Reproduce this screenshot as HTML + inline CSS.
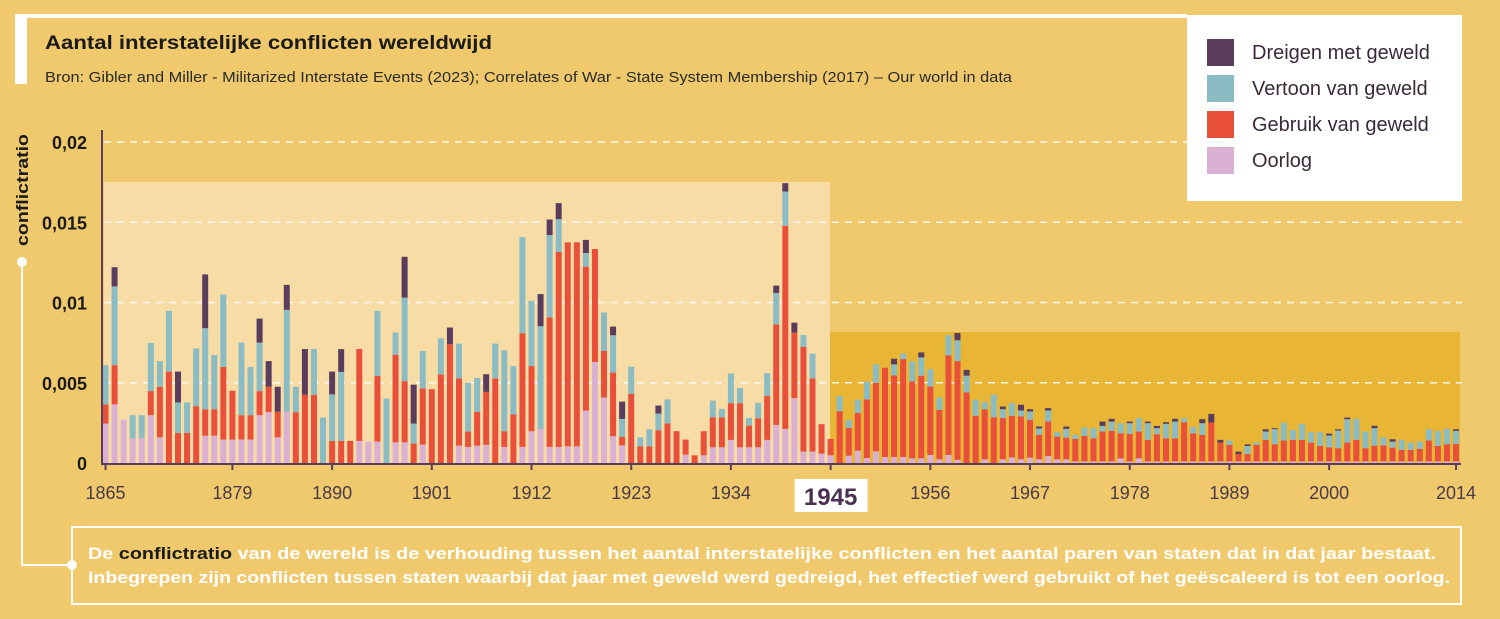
<!DOCTYPE html>
<html><head><meta charset="utf-8">
<style>
html,body{margin:0;padding:0;}
body{width:1500px;height:619px;background:#efc96c;overflow:hidden;font-family:"Liberation Sans",sans-serif;}
svg{display:block;}
</style></head>
<body>
<svg id="chart" width="1500" height="619" viewBox="0 0 1500 619" xmlns="http://www.w3.org/2000/svg">
  <rect x="0" y="0" width="1500" height="619" fill="#efc96c"/>
  <rect x="15" y="14" width="1172" height="4" fill="#fff"/>
  <rect x="15" y="14" width="12" height="70" fill="#fff"/>
  <text x="45" y="49" font-size="19" font-weight="bold" fill="#1a1a1a" textLength="447" lengthAdjust="spacingAndGlyphs">Aantal interstatelijke conflicten wereldwijd</text>
  <text x="45" y="82" font-size="14.5" fill="#2a2a2a" textLength="967" lengthAdjust="spacingAndGlyphs">Bron: Gibler and Miller - Militarized Interstate Events (2023); Correlates of War - State System Membership (2017) – Our world in data</text>
  <g>
    <rect x="1187" y="15" width="275" height="186" fill="#fff"/>
    <g><rect x="1207" y="39" width="27" height="27" fill="#5a3d5c"/><text x="1252" y="59" font-size="20" fill="#3a2a3a">Dreigen met geweld</text></g>
    <g><rect x="1207" y="75" width="27" height="27" fill="#8bbcc4"/><text x="1252" y="95" font-size="20" fill="#3a2a3a">Vertoon van geweld</text></g>
    <g><rect x="1207" y="111" width="27" height="27" fill="#e8503a"/><text x="1252" y="131" font-size="20" fill="#3a2a3a">Gebruik van geweld</text></g>
    <g><rect x="1207" y="147" width="27" height="27" fill="#dcb0d3"/><text x="1252" y="167" font-size="20" fill="#3a2a3a">Oorlog</text></g>
  </g>
  <rect x="104" y="182" width="726" height="281" fill="#f8dca6"/>
  <rect x="830" y="332" width="630" height="131" fill="#e8b534"/>
  <g id="grid"></g>
  <g id="yticks"></g>
  <g id="bars"></g>
  <line x1="102" y1="130" x2="102" y2="464" stroke="#5a3d5c" stroke-width="2"/>
  <line x1="101" y1="464" x2="1461" y2="464" stroke="#5a3d5c" stroke-width="2"/>
  <g id="xticks"></g>
  <text transform="translate(28,190) rotate(-90)" text-anchor="middle" font-size="17" font-weight="bold" fill="#1a1a1a" textLength="112" lengthAdjust="spacingAndGlyphs">conflictratio</text>
  <circle cx="22" cy="262" r="5" fill="#fff"/>
  <polyline points="22,262 22,565 72,565" fill="none" stroke="#fff" stroke-width="2"/>
  <circle cx="72" cy="565" r="5" fill="#fff"/>
  <rect x="72" y="527" width="1389" height="77" fill="none" stroke="#fff" stroke-width="2"/>
  <text x="88" y="559" font-size="16.5" font-weight="bold" fill="#fff" textLength="1348" lengthAdjust="spacingAndGlyphs">De <tspan fill="#1a1a1a">conflictratio</tspan> van de wereld is de verhouding tussen het aantal interstatelijke conflicten en het aantal paren van staten dat in dat jaar bestaat.</text>
  <text x="88" y="583" font-size="16.5" font-weight="bold" fill="#fff" textLength="1362" lengthAdjust="spacingAndGlyphs">Inbegrepen zijn conflicten tussen staten waarbij dat jaar met geweld werd gedreigd, het effectief werd gebruikt of het geëscaleerd is tot een oorlog.</text>
</svg>
<script>
const firstYear = 1865;
const war = [2.46,3.65,2.7,1.54,1.54,2.98,1.6,0,0,0,0,1.7,1.7,1.46,1.46,1.46,1.46,2.98,3.17,1.6,3.2,0,0,0,0,0,0,0,1.375,1.33,
1.33,0,1.29,1.29,0,1.15,0,0,0,1.08,1.0,1.08,1.13,0,1.0,0,1.0,1.98,2.125,1.0,1.0,1.04,1.04,3.27,6.29,4.08,1.67,1.1,0,
0,0,0,0,0,0.52,0,0.48,0.98,0.98,1.44,0.98,0.98,0.98,1.44,2.375,2.125,4.04,0.71,0.71,0.58,0.48,0,0.46,0.77,0.31,0.73,0.375,0.375,0.375,
0.29,0.29,0.5,0.23,0.5,0.2,0,0,0.23,0,0.23,0.35,0.23,0.33,0.23,0.44,0.23,0.23,0.1,0.1,0.1,0.1,0.1,0.29,0.1,0.29,0.1,0.1,0.1,0.1,
0.1,0.1,0.1,0.1,0.1,0.1,0.1,0.1,0.1,0.1,0.1,0.1,0.1,0.1,0.1,0.1,0.1,0.1,0.1,0.1,0.1,0.1,0.1,0.1,0.1,0.1,0.1,0.1,0.1,0.1,0.1];
const useForce = [1.19,2.45,0,0,0,1.5,3.15,5.69,1.875,1.875,3.54,1.65,1.65,4.52,3.04,1.52,1.52,1.5,1.58,1.6,0,3.17,4.25,4.25,0,1.375,1.375,1.375,5.73,0,
4.09,0,5.44,3.81,1.21,3.5,4.6,5.52,7.4,4.19,0.96,2.1,3.3,5.27,0.98,3.02,7.08,4.06,0,8.08,12.15,12.71,12.71,8.96,7.04,2.9,3.96,0.52,4.31,
1.04,1.04,2.04,2.46,1.98,0.94,0.48,1.5,1.87,1.87,2.29,2.75,1.35,1.81,2.73,6.27,12.65,4.08,6.52,4.56,1.84,1.02,3.23,1.73,2.35,3.65,4.27,5.56,5.08,6.1,
4.79,5.15,4.27,3.08,6.21,6.15,4.4,2.94,3.12,2.85,2.57,2.59,2.67,2.36,1.52,2.14,1.42,1.35,1.4,1.59,1.44,1.86,1.9,1.56,1.71,1.67,1.34,1.69,1.44,1.44,
2.44,1.75,1.65,2.42,1.17,1.03,0.46,0.46,1.03,1.34,1.07,1.3,1.34,1.34,1.17,0.96,0.88,0.82,1.17,1.34,0.82,0.98,1.0,0.86,0.71,0.71,0.78,1.3,0.96,1.07,1.09];
const display = [2.45,4.9,0,1.44,1.44,3.0,1.6,3.79,1.9,1.9,3.6,5.05,3.38,4.52,0,4.52,3.0,3.02,0,0,6.34,1.58,0,2.85,2.83,2.9,4.3,0,0,0,
4.06,4.02,1.4,5.2,1.25,2.33,0,2.25,0,2.17,3.04,2.12,0,2.17,5.04,3.02,6.0,4.06,6.4,5.12,2.04,0,0,0.85,0,2.4,2.33,1.125,1.69,
0.56,1.06,1.04,1.5,0,0,0,0,1.04,0.52,1.85,0.94,0.48,0.96,1.43,1.95,2.14,0,0.75,1.54,0,0,0.94,0.48,0.83,1.1,1.15,0,0.69,0.33,
1.25,1.14,1.08,0.77,1.25,1.3,1.04,1.0,0.44,1.4,0.55,0.79,0.37,0.52,0.4,0.69,0.27,0.55,0.25,0.52,0.63,0.35,0.58,0.63,0.67,0.83,1.04,0.38,0.9,1.04,
0.25,0.38,0.73,0,0,0.27,0,0.5,0.15,0.52,0.94,1.12,0.62,1.0,0.65,0.86,0.73,1.1,1.46,1.31,1.04,1.09,0.5,0.37,0.63,0.46,0.45,0.7,0.94,0.96,0.81];
const threat = [0,1.2,0,0,0,0,0,0,1.92,0,0,3.35,0,0,0,0,0,1.5,1.6,1.55,1.56,0,2.85,0,0,1.42,1.42,0,0,0,
0,0,0,2.55,2.42,0,0,0,1.04,0,0,0,1.1,0,0,0,0,0,2.0,0.97,1.0,0,0,0.82,0,0,0.54,1.08,0,
0,0,0.5,0,0,0,0,0,0,0,0,0,0,0,0,0.46,0.52,0.625,0,0,0,0,0,0,0,0,0,0,0.35,0,
0,0.31,0,0,0,0.45,0.36,0,0,0,0.17,0,0.36,0.14,0.12,0.15,0,0.14,0,0,0,0.27,0.17,0,0.1,0,0.1,0.14,0.1,0.17,
0,0,0.25,0.54,0.17,0,0.15,0.1,0,0.14,0.06,0,0,0,0,0,0.12,0.08,0.1,0,0,0.15,0,0.15,0,0,0,0,0,0,0.1];
const yTickValues = [0, 5, 10, 15, 20];
const yTickLabels = ["0", "0,005", "0,01", "0,015", "0,02"];
const xTickYears = [1865, 1879, 1890, 1901, 1912, 1923, 1934, 1945, 1956, 1967, 1978, 1989, 2000, 2014];

const NS = "http://www.w3.org/2000/svg";
function yScale(v){ return 463 - v * 16.05; }
function xScale(year){ return 105.5 + (year - 1865) * 9.064; }
function mk(tag, attrs){ const e = document.createElementNS(NS, tag); for (const k in attrs) e.setAttribute(k, attrs[k]); return e; }

const grid = document.getElementById('grid');
const yt = document.getElementById('yticks');
yTickValues.forEach((v, i) => {
  if (v > 0) {
    const l = mk('line', {x1: 104, x2: 1462, y1: yScale(v), y2: yScale(v), stroke: '#fff', 'stroke-width': 1.5, 'stroke-dasharray': '7 6', opacity: 0.9});
    
    
    grid.appendChild(l);
  }
  const t = mk('text', {x: 87, y: yScale(v) + 7, 'text-anchor': 'end', 'font-size': 18, 'font-weight': 'bold', fill: '#1a1a1a'});
  t.textContent = yTickLabels[i];
  
  
  yt.appendChild(t);
});

const bars = document.getElementById('bars');
const series = [[war, '#dcb0d3', 'war'], [useForce, '#e8503a', 'use'], [display, '#8bbcc4', 'display'], [threat, '#5a3d5c', 'threat']];
for (let i = 0; i < war.length; i++) {
  const year = firstYear + i;
  let base = 0;
  series.forEach(([arr, color, nm]) => {
    const v = arr[i] || 0;
    if (v <= 0) return;
    const y1 = yScale(base + v), y0 = yScale(base);
    const r = mk('rect', {x: xScale(year) - 3, y: y1, width: 6, height: y0 - y1, fill: color});
    
    
    bars.appendChild(r);
    base += v;
  });
}

const xt = document.getElementById('xticks');
xTickYears.forEach(yr => {
  const x = xScale(yr);
  const tk = mk('line', {x1: x, x2: x, y1: 464, y2: 470, stroke: '#5a3d5c', 'stroke-width': 2});
  
  
  xt.appendChild(tk);
  if (yr === 1945) {
    const b = mk('rect', {x: x - 36, y: 479, width: 73, height: 33, fill: '#fff'});
    
    
    xt.appendChild(b);
    const t = mk('text', {x: x, y: 505, 'text-anchor': 'middle', 'font-size': 24, 'font-weight': 'bold', fill: '#4a3050'});
    t.textContent = String(yr);
    
    
    xt.appendChild(t);
  } else {
    const t = mk('text', {x: x, y: 499, 'text-anchor': 'middle', 'font-size': 18, fill: '#4a3a48'});
    t.textContent = String(yr);
    
    
    xt.appendChild(t);
  }
});
</script>
</body></html>
